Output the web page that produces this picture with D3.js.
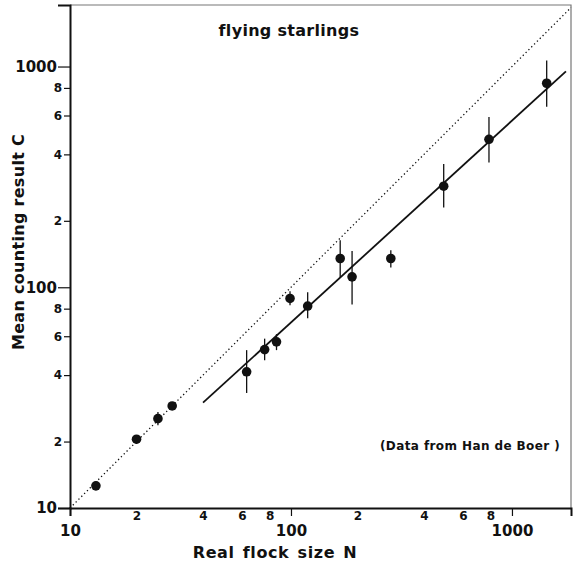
<!DOCTYPE html>
<html>
<head>
<meta charset="utf-8">
<script src="https://cdn.jsdelivr.net/npm/d3@7"></script>
<style>
  body { margin: 0; background: #fff; }
  svg text { font-family: "DejaVu Sans", sans-serif; font-weight: bold; fill: #111; }
</style>
</head>
<body>
<div id="chart"></div>
<script>
let width = 580;
let height = 564;

// real flock size N
let flockSize = [13.1, 20, 25, 29, 63, 76, 86, 99, 119, 167, 189, 283, 491, 787, 1436];
// mean counting result C
let meanCount = [12.6, 20.5, 25.4, 29, 41.4, 52.2, 56.6, 89, 82.2, 135, 111.5, 135, 287, 468, 840];
// error bar ends
let errLow = [12.1, 19.5, 23.7, 28, 33.2, 46.7, 51.9, 82.9, 72.4, 111, 83.5, 123, 230, 367, 658];
let errHigh = [13.1, 21.4, 27.2, 30, 51.9, 58.5, 61.3, 96, 95, 163.5, 146, 147, 362, 590, 1064];
// fitted line ends
let fitN = [40, 1755];
let fitC = [30, 950];

let majorTicks = [10, 100, 1000];
let minorTicks = [20, 40, 60, 80, 200, 400, 600, 800];

let svg = d3.select('#chart').append('svg')
    .attr('width', width)
    .attr('height', height);

let x = d3.scaleLog().domain([10, 1850]).range([70, 571]);
let y = d3.scaleLog().domain([10, 1900]).range([508, 5]);

let fmtMinor = d => String(d).charAt(0);

// frame (top / right)
svg.append('path')
    .attr('d', 'M' + x(10) + ',' + y(1900) + 'H' + x(1850) + 'V' + y(10))
    .attr('fill', 'none')
    .attr('stroke', '#777')
    .attr('stroke-width', 1.2);

// y axis
let yMinor = svg.append('g')
    .attr('transform', 'translate(' + x(10) + ',0)')
    .call(d3.axisLeft(y).tickValues(minorTicks).tickFormat(fmtMinor).tickSize(6).tickPadding(2));
yMinor.selectAll('text').style('font-size', '12px');
let yMajor = svg.append('g')
    .attr('transform', 'translate(' + x(10) + ',0)')
    .call(d3.axisLeft(y).tickValues(majorTicks).tickFormat(d3.format('d')).tickSize(12).tickPadding(1));
yMajor.selectAll('text').style('font-size', '15px');
yMajor.select('.domain').attr('stroke-width', 2);

// x axis
let xMinor = svg.append('g')
    .attr('transform', 'translate(0,' + y(10) + ')')
    .call(d3.axisBottom(x).tickValues(minorTicks).tickFormat(fmtMinor).tickSize(0).tickPadding(3));
xMinor.selectAll('text').style('font-size', '12px');
let xMajor = svg.append('g')
    .attr('transform', 'translate(0,' + y(10) + ')')
    .call(d3.axisBottom(x).tickValues(majorTicks).tickFormat(d3.format('d')).tickSize(8).tickPadding(9));
xMajor.selectAll('text').style('font-size', '15px');
xMajor.select('.domain').attr('stroke-width', 2);
svg.selectAll('.tick line').attr('stroke', '#111').attr('stroke-width', 1.2);
svg.selectAll('.domain').attr('stroke', '#111');

// y = x reference (dotted)
svg.append('line')
    .attr('x1', x(10)).attr('y1', y(10))
    .attr('x2', x(1850)).attr('y2', y(1850))
    .attr('stroke', '#111')
    .attr('stroke-width', 1.3)
    .attr('stroke-dasharray', '1.3,2.7');

// fitted line
svg.append('line')
    .attr('x1', x(fitN[0])).attr('y1', y(fitC[0]))
    .attr('x2', x(fitN[1])).attr('y2', y(fitC[1]))
    .attr('stroke', '#111')
    .attr('stroke-width', 1.8);

let pts = flockSize.map((n, i) => ({ n: n, c: meanCount[i], lo: errLow[i], hi: errHigh[i] }));

svg.append('g').selectAll('line')
    .data(pts).enter().append('line')
    .attr('x1', d => x(d.n)).attr('x2', d => x(d.n))
    .attr('y1', d => y(d.lo)).attr('y2', d => y(d.hi))
    .attr('stroke', '#111')
    .attr('stroke-width', 1.3);

svg.append('g').selectAll('circle')
    .data(pts).enter().append('circle')
    .attr('cx', d => x(d.n))
    .attr('cy', d => y(d.c))
    .attr('r', 4.8)
    .attr('fill', '#111');

// texts
svg.append('text')
    .attr('x', 289).attr('y', 36)
    .attr('text-anchor', 'middle')
    .style('font-size', '16px')
    .style('letter-spacing', '0.3px')
    .text('flying starlings');

svg.append('text')
    .attr('x', 470).attr('y', 450)
    .attr('text-anchor', 'middle')
    .style('font-size', '12px')
    .style('letter-spacing', '0.4px')
    .text('(Data from Han de Boer )');

svg.append('text')
    .attr('x', 275).attr('y', 558)
    .attr('text-anchor', 'middle')
    .style('font-size', '16px')
    .style('letter-spacing', '0.6px')
    .style('word-spacing', '2px')
    .text('Real flock size N');

svg.append('text')
    .attr('transform', 'translate(24,242) rotate(-90)')
    .attr('text-anchor', 'middle')
    .style('font-size', '16px')
    .style('letter-spacing', '0.3px')
    .text('Mean counting result C');
</script>
</body>
</html>
